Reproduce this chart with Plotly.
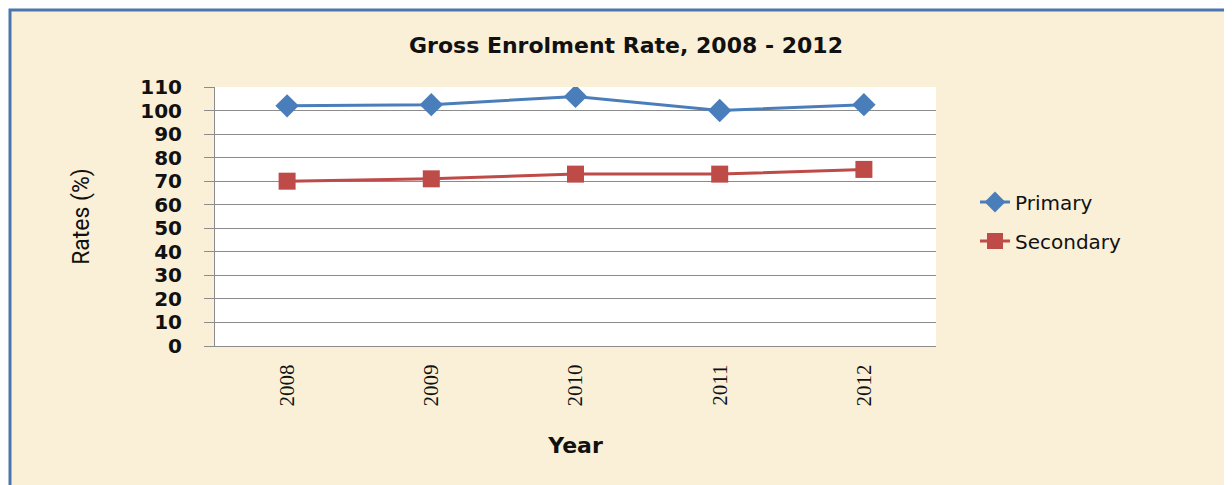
import plotly.graph_objects as go

# Data
years = ["2008", "2009", "2010", "2011", "2012"]
primary = [102, 102.5, 106, 100, 102.5]
secondary = [70, 71, 73, 73, 75]
y_ticks = list(range(0, 111, 10))

# page has an 8px body margin, so figure pixel = screen pixel - 8
OFF = 8
L, R, T, B = 215 - OFF, 936 - OFF, 87 - OFF, 346 - OFF
W, H = 1232, 485


def px_x(x):
    return (x - OFF - L) / (R - L)


def px_y(y):
    return (B - (y - OFF)) / (B - T)


fig = go.Figure()

fig.add_trace(go.Scatter(
    x=years, y=primary, name="Primary", mode="lines+markers",
    line=dict(color="#4A7EBB", width=3),
    marker=dict(symbol="diamond", size=18, color="#4A7EBB"),
    legend="legend", showlegend=True,
))
fig.add_trace(go.Scatter(
    x=years, y=secondary, name="Secondary", mode="lines+markers",
    line=dict(color="#BE4B48", width=3),
    marker=dict(symbol="square", size=17, color="#BE4B48"),
    legend="legend2", showlegend=True,
))

# parchment frame and white plot area
fig.add_shape(type="rect", xref="paper", yref="paper", layer="below",
              x0=px_x(10), x1=px_x(W + 30), y0=px_y(H + 30), y1=px_y(10),
              fillcolor="#FAF0D8", line=dict(color="#4A76B0", width=3))
fig.add_shape(type="rect", xref="paper", yref="paper", layer="below",
              x0=0, x1=1, y0=0, y1=1, fillcolor="white", line=dict(width=0))

legend_font = dict(family="DejaVu Sans", size=20, color="#111111")

fig.update_layout(
    width=W, height=H,
    margin=dict(l=L, r=W - R, t=T, b=H - B),
    paper_bgcolor="white",
    plot_bgcolor="rgba(0,0,0,0)",
    showlegend=True,
    title=dict(text="Gross Enrolment Rate, 2008 - 2012",
               font=dict(family="DejaVu Sans", size=22, color="#111111", weight="bold"),
               xref="container", x=(626 - OFF) / W, xanchor="center",
               yref="container", y=1 - (45 - OFF) / H, yanchor="middle"),
    legend=dict(x=px_x(975), y=px_y(202), xanchor="left", yanchor="middle",
                bgcolor="rgba(0,0,0,0)", font=legend_font),
    legend2=dict(x=px_x(975), y=px_y(241), xanchor="left", yanchor="middle",
                 bgcolor="rgba(0,0,0,0)", font=legend_font),
    xaxis=dict(
        type="category", range=[-0.5, 4.5],
        tickangle=-90, ticks="", showgrid=False,
        showline=True, linecolor="#8C8C8C", linewidth=1,
        tickfont=dict(family="Liberation Serif", size=21, color="#111111"),
        ticklabelstandoff=9,
        title=dict(text="Year", standoff=32,
                   font=dict(family="DejaVu Sans", size=22, color="#111111", weight="bold")),
    ),
    yaxis=dict(
        range=[0, 110], tickvals=y_ticks,
        ticks="outside", ticklen=10, tickcolor="#8C8C8C",
        showgrid=True, gridcolor="#8C8C8C", gridwidth=1,
        showline=True, linecolor="#8C8C8C", linewidth=1,
        zeroline=False,
        tickfont=dict(family="DejaVu Sans", size=20, color="#111111", weight="bold"),
        ticklabelstandoff=18,
        title=dict(text="Rates (%)", standoff=44,
                   font=dict(family="Roboto", size=23, color="#111111")),
    ),
)

fig.write_html("out.html")
